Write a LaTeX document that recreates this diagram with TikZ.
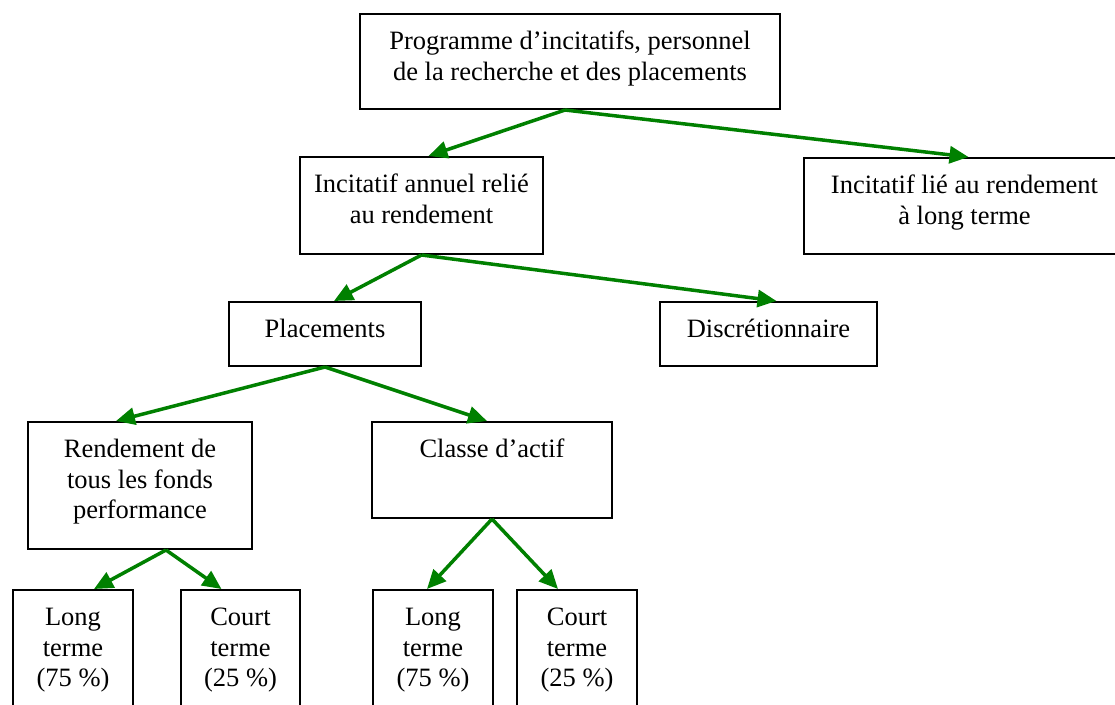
\documentclass[tikz,border=0pt]{standalone}
\usepackage{fontspec}
\setmainfont{Liberation Serif}
\usetikzlibrary{arrows.meta}
\definecolor{arrowgreen}{RGB}{0,128,0}
\newcommand{\bxtext}[3]{\parbox[c][#2][t]{#1}{\centering\rule{0pt}{35.5pt}#3}}
\begin{document}
\begin{tikzpicture}[x=1pt,y=-1pt,
  box/.style={draw, line width=2pt, inner sep=0pt, anchor=north west,
    font=\fontsize{26.5pt}{30.5pt}\selectfont},
  arr/.style={draw=arrowgreen, line width=3.5pt, -{Triangle[length=19pt,width=17pt]}}]
\useasboundingbox (0,0) rectangle (1115,704);
\fill[white] (0,0) rectangle (1115,704);

\node[box] (top) at (359,13) {\bxtext{420pt}{95pt}{Programme d’incitatifs, personnel\\de la recherche et des placements}};
\node[box] (ann) at (299,156) {\bxtext{243pt}{97pt}{Incitatif annuel relié\\au rendement}};
\node[box] (lt) at (803,157) {\bxtext{321pt}{96pt}{Incitatif lié au rendement\\à long terme}};
\node[box] (pla) at (228,301) {\bxtext{192pt}{64pt}{Placements}};
\node[box] (dis) at (659,301) {\bxtext{217pt}{64pt}{Discrétionnaire}};
\node[box] (ren) at (27,421) {\bxtext{224pt}{127pt}{Rendement de\\tous les fonds\\performance}};
\node[box] (cla) at (371,421) {\bxtext{240pt}{96pt}{Classe d’actif}};
\node[box] (l1) at (12,589) {\bxtext{120pt}{130pt}{Long\\terme\\(75 \%)}};
\node[box] (c1) at (180,589) {\bxtext{119pt}{130pt}{Court\\terme\\(25 \%)}};
\node[box] (l2) at (372,589) {\bxtext{120pt}{130pt}{Long\\terme\\(75 \%)}};
\node[box] (c2) at (516,589) {\bxtext{120pt}{130pt}{Court\\terme\\(25 \%)}};

\draw[arr] ([xshift=-5pt]top.south) -- ([xshift=7pt]ann.north);
\draw[arr] ([xshift=-5pt]top.south) -- ([xshift=4pt]lt.north);
\draw[arr] (ann.south) -- ([xshift=9pt]pla.north);
\draw[arr] (ann.south) -- ([xshift=8pt]dis.north);
\draw[arr] (pla.south) -- ([xshift=-24pt]ren.north);
\draw[arr] (pla.south) -- ([xshift=-5pt]cla.north);
\draw[arr] ([xshift=26pt]ren.south) -- ([xshift=21pt]l1.north);
\draw[arr] ([xshift=26pt]ren.south) -- ([xshift=-19pt]c1.north);
\draw[arr] (cla.south) -- ([xshift=-6pt]l2.north);
\draw[arr] (cla.south) -- ([xshift=-19pt]c2.north);
\end{tikzpicture}
\end{document}
